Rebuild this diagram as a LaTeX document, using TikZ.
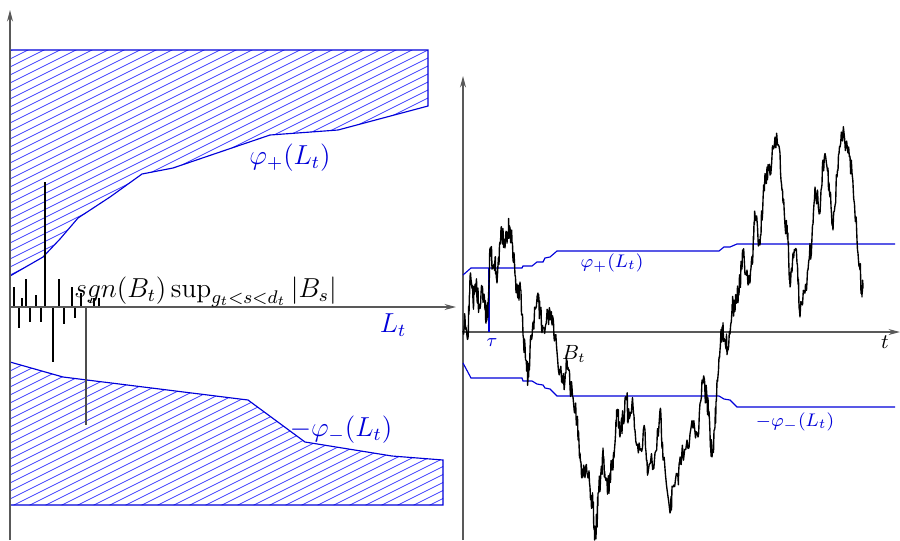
\documentclass[tikz,border=0pt]{standalone}
\usetikzlibrary{arrows.meta}
\begin{document}
\begin{tikzpicture}[x=0.4375pt,y=-0.4375pt,
  axis/.style={draw=black!65, line width=0.6pt, -{Stealth[length=5pt,width=2.6pt]}},
  bound/.style={draw=blue!85!black, line width=0.5pt},
  hatch/.style={draw=blue!75, line width=0.35pt},
  spike/.style={draw=black, line width=0.5pt},
  brown/.style={draw=black, line width=0.6pt, line join=round},
  lab/.style={text=blue!85!black, inner sep=0pt},
  blab/.style={text=black, inner sep=0pt}]
\useasboundingbox (0,0) rectangle (900,540);
\pgfmathsetseed{4242}

% ---------- left panel: hatched regions ----------
\begin{scope}
  \clip (10,50) -- (428,50) -- (428,106) -- (338,130) -- (270,135) -- (173,168)
    -- (142,174) -- (110,197) -- (78,218) -- (60,239) -- (43,257) -- (10,276) -- cycle;
  \foreach \c in {40,48,...,520} \draw[hatch] (0,\c) -- (450,{\c-225});
\end{scope}
\draw[bound] (10,50) -- (428,50) -- (428,106) -- (338,130) -- (270,135) -- (173,168)
    -- (142,174) -- (110,197) -- (78,218) -- (60,239) -- (43,257) -- (10,276);
\begin{scope}
  \clip (10,362) -- (63,377) -- (248,400) -- (305,442) -- (392,456) -- (443,460)
    -- (443,505) -- (10,505) -- cycle;
  \foreach \c in {352,360,...,744} \draw[hatch] (0,\c) -- (450,{\c-225});
\end{scope}
\draw[bound] (10,362) -- (63,377) -- (248,400) -- (305,442) -- (392,456) -- (443,460)
    -- (443,505) -- (10,505);

% ---------- left panel: spikes ----------
\foreach \x/\y in {14/287, 22/298, 26/279, 36/295, 45/182, 59/279, 72/287, 81/293, 94/298, 99/298,
                   19/328, 30/322, 41/322, 53/362, 64/324, 75/318}
  \draw[spike] (\x,307) -- (\x,\y);
\draw[spike] (90,303) -- (92,298);
\draw[draw=black!70, line width=0.55pt] (86,307) -- (86,425);

% ---------- left panel: axes ----------
\coordinate (lo) at (10,307);
\coordinate (lb) at (10,540);
\coordinate (lt) at (10,10);
\coordinate (lr) at (456,307);
\draw[axis] (lb) -- (lt);
\draw[axis] (lo) -- (lr);

\node[lab, font=\large] (phip) at (290,158) {$\varphi_+(L_t)$};
\node[lab, font=\large] (phim) at (341,430) {$-\varphi_-(L_t)$};
\node[lab, font=\large] (Lt) at (393,325) {$L_t$};
\node[blab, anchor=base west, font=\large] (sup) at (74,297) {$sgn(B_t)\sup_{g_t<s<d_t}|B_s|$};

% ---------- right panel: axes ----------
\coordinate (ro) at (463,332);
\coordinate (rb) at (463,540);
\coordinate (rt) at (463,76);
\coordinate (rr) at (900,332);
\draw[axis] (rb) -- (rt);
\draw[axis] (ro) -- (rr);

% ---------- right panel: boundaries ----------
\draw[bound] (463,275) -- (471,268) -- (522,268) -- (523,266) -- (532,266) -- (537,262) -- (543,262)
  -- (545,258) -- (550,257) -- (557,251) -- (719,251) -- (724,247) -- (730,247) -- (737,244) -- (895,244);
\draw[bound] (463,363) -- (471,378) -- (522,378) -- (523,381) -- (532,381) -- (537,384) -- (543,385)
  -- (545,388) -- (550,389) -- (557,396) -- (719,396) -- (724,399) -- (730,400) -- (737,407) -- (895,407);
\coordinate (tau0) at (489,332);
\coordinate (tau1) at (489,268);
\draw[bound] (tau0) -- (tau1);

% ---------- right panel: Brownian path ----------
\gdef\bpath{}
\foreach \x/\y [remember=\x as \px (initially 463), remember=\y as \py (initially 331)] in {
 465/318, 468/338, 470/277, 473/300, 476/285, 479/305,
 482/288, 485/310, 487/318, 488/305, 490/248, 493/268, 495/258, 497/283,
 500/242, 502/235, 505/248, 508/232, 510/227, 512/242, 515/275, 518/298,
 520/282, 523/335, 526/360, 528/378, 530/350, 533/322, 538/293, 540/315,
 543/328, 548/312, 552/325, 555/335, 560/370, 565/380, 567/360, 570/387,
 573/397, 577/420, 580/453, 583/477, 587/473, 590/487, 593/507, 595/536,
 597/520, 598/493, 602/467, 603/448, 605/477, 608/490, 610/473, 613/470,
 616/420, 618/413, 620/437, 623/417, 627/400, 628/423, 632/403, 635/430,
 640/450, 645/430, 648/473, 655/453, 660/410, 663/460, 670/513, 673/487,
 678/477, 680/457, 687/440, 693/428, 698/437, 702/380, 707/397, 710/433,
 712/457, 715/427, 717/380, 720/350, 722/327, 725/340, 728/350, 732/310,
 733/307, 737/300, 740/280, 743/257, 747/270, 750/283, 753/253, 755/215,
 760/245, 763/200, 767/167, 770/175, 775/137, 780/153, 783/203, 787/233,
 788/243, 790/287, 793/253, 797/263, 800/317, 805/293, 808/270, 812/237,
 815/187, 820/213, 823/160, 827/167, 830/197, 833/230, 837/177, 840/147,
 844/133, 848/153, 852/173, 857/240, 860/270, 862/297, 863/283} {
  \foreach \k in {1,2,3,4,5,6} {
    \pgfmathsetmacro\xx{\px+(\x-\px)*\k/6}
    \pgfmathsetmacro\yy{\py+(\y-\py)*\k/6+((\k<6)?(rand*12):0)}
    \xdef\bpath{\bpath -- (\xx,\yy)}
  }
}
\draw[brown] (463,331) \bpath;

\node[lab, font=\footnotesize] (phipr) at (612,263) {$\varphi_+(L_t)$};
\node[lab, font=\footnotesize] (phimr) at (795,422) {$-\varphi_-(L_t)$};
\node[lab, font=\footnotesize] (tau) at (492,343) {$\tau$};
\node[blab, font=\small] (Bt) at (574,354) {$B_t$};
\node[blab, font=\small] (tt) at (885,342) {$t$};
\end{tikzpicture}
\end{document}
